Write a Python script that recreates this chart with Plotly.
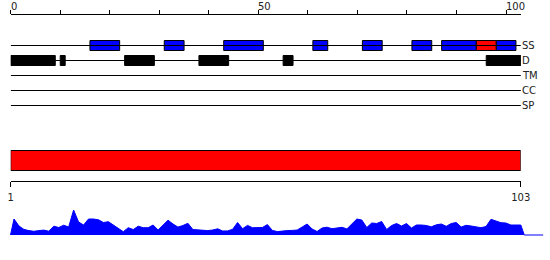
import plotly.graph_objects as go

W, H = 550, 260
FONT = "DejaVu Sans"

# ---- data ----
seq_len = 103
track_names = ["SS", "D", "TM", "CC", "SP"]
ss_blue_start = [16, 31, 43, 61, 71, 81, 87, 98]
ss_blue_end = [22, 35, 51, 64, 75, 85, 94, 102]
ss_red_start = [94]
ss_red_end = [98]
d_start = [0, 10, 23, 38, 55, 96]
d_end = [9, 11, 29, 44, 57, 103]
top_ticks = [0, 10, 20, 30, 40, 50, 60, 70, 80, 90, 100]
top_labels = [0, 50, 100]
domain_start = [1]
domain_end = [103]
ps_scores = [16, 9, 5.6, 4.4, 3.7, 4.4, 4.9, 3.8, 8.8, 7.5,
             9.8, 8, 25, 13, 10, 16, 16, 15.2, 12.5, 13.3,
             10, 7.3, 3.3, 7.3, 5.4, 8.8, 7.3, 7.3, 10, 5,
             10, 14.8, 11, 7.9, 9.5, 11.7, 5.5, 5, 5, 4.4,
             5, 6.2, 4, 4.1, 5.7, 12.5, 6.3, 9.6, 7.3, 7.2,
             7.5, 10.4, 4.6, 3.4, 4.1, 4.4, 4.6, 5, 8, 11,
             6, 3.5, 7, 7.8, 6.3, 7, 7.7, 6.1, 11, 16,
             15, 7.5, 12, 11.5, 13.5, 5.5, 9.5, 11.5, 9, 11.5,
             7, 10, 10, 9.5, 8.2, 10.2, 11, 8.7, 11.5, 12.5,
             8, 9.7, 9, 8, 7.3, 8.5, 15.7, 14, 12.3, 12,
             10, 10, 10]

# ---- layout constants (pixels) ----
x0px = 10.7
top_end_px = 520.9
top_axis_px = 14.5
top_label_px = 6
track_y = [45.5, 60.5, 75.5, 90.5, 105.5]
box_h = 10
dom_y = 160.5
dom_h = 20
ruler_y = 180.5
ps_label_px = 211
area_x0px = 14.0
area_x1px = 520.8

fig = go.Figure()

# track lines
for name, ty in zip(track_names, track_y):
    fig.add_trace(go.Scatter(x=[0, seq_len], y=[ty, ty], mode="lines",
                             line=dict(color="black", width=1),
                             xaxis="x", yaxis="y", hoverinfo="skip"))

def hbars(starts, ends, ty, color, xa="x", ya="y", h=box_h):
    return go.Bar(orientation="h", base=starts,
                  x=[e - s for s, e in zip(starts, ends)],
                  y=[ty] * len(starts), width=[h] * len(starts),
                  marker=dict(color=color, line=dict(color="black", width=1)),
                  xaxis=xa, yaxis=ya, cliponaxis=False, hoverinfo="skip")

fig.add_trace(hbars(ss_blue_start, ss_blue_end, track_y[0], "#0000FF"))
fig.add_trace(hbars(ss_red_start, ss_red_end, track_y[0], "#FF0000"))
fig.add_trace(hbars(d_start, d_end, track_y[1], "black"))

# domain bar
fig.add_trace(hbars(domain_start, domain_end, dom_y, "#FF0000", xa="x2", ya="y3", h=dom_h))

# PS area
res = list(range(1, seq_len + 1))
ax = [res[0] - 0.7] + res + [res[-1] + 0.7]
ay = [0] + ps_scores + [0]
fig.add_trace(go.Scatter(x=ax, y=ay, mode="lines", fill="tozeroy",
                         fillcolor="#0000FF", line=dict(color="#0000FF", width=1),
                         xaxis="x3", yaxis="y2", hoverinfo="skip"))
fig.add_trace(go.Scatter(x=[res[-1] + 0.7, res[-1] + 4.5], y=[0, 0], mode="lines",
                         line=dict(color="#0000FF", width=1),
                         xaxis="x3", yaxis="y2", hoverinfo="skip"))

annotations = []
for v in top_labels:
    annotations.append(dict(x=v, y=(H - top_label_px) / H, xref="x", yref="paper",
                            text=str(v), showarrow=False,
                            xanchor="left", yanchor="middle", xshift=-2,
                            font=dict(family=FONT, size=10, color="#222")))
for name, ty in zip(track_names, track_y):
    annotations.append(dict(x=seq_len, y=ty, xref="x", yref="y", text=name, showarrow=False,
                            xanchor="left", yanchor="middle", xshift=-1,
                            font=dict(family=FONT, size=10, color="#222")))
annotations.append(dict(x=seq_len + 1.45, y=(H - ps_label_px) / H, xref="x2", yref="paper",
                        text="PS", showarrow=False,
                        xanchor="center", yanchor="middle",
                        font=dict(family=FONT, size=10, color="#222")))

scale3 = (area_x1px - area_x0px) / (seq_len - 1)
x3_lo = 1 - area_x0px / scale3
x3_hi = 1 + (W - area_x0px) / scale3

fig.update_layout(
    width=W, height=H, margin=dict(l=0, r=0, t=0, b=0, autoexpand=False),
    paper_bgcolor="white", plot_bgcolor="rgba(0,0,0,0)", showlegend=False,
    barmode="overlay",
    xaxis=dict(domain=[x0px / W, top_end_px / W], range=[0, seq_len], side="top",
               anchor="y",
               tickvals=top_ticks, ticks="outside", ticklen=4, tickcolor="black", tickwidth=1,
               showticklabels=False, showline=True, linecolor="black", linewidth=1,
               showgrid=False, zeroline=False, fixedrange=True),
    yaxis=dict(domain=[0, (H - top_axis_px) / H], range=[H, top_axis_px], anchor="x",
               visible=False, fixedrange=True),
    xaxis2=dict(domain=[x0px / W, 520.7 / W], range=[1, seq_len], side="bottom",
                anchor="y3",
                tickvals=[1, seq_len], ticktext=["1", str(seq_len)],
                ticks="outside", ticklen=5, tickcolor="black", tickwidth=1,
                ticklabelstandoff=2,
                tickfont=dict(family=FONT, size=10, color="#222"),
                showline=True, linecolor="black", linewidth=1,
                showgrid=False, zeroline=False, fixedrange=True),
    yaxis3=dict(domain=[(H - ruler_y) / H, (H - top_axis_px) / H], range=[ruler_y, top_axis_px],
                anchor="x2", visible=False, fixedrange=True),
    xaxis3=dict(domain=[0, 1], range=[x3_lo, x3_hi], visible=False, anchor="y2",
                fixedrange=True),
    yaxis2=dict(domain=[(H - 236) / H, (H - 200) / H], range=[-1, 35], visible=False,
                anchor="x3", fixedrange=True),
    annotations=annotations,
)

fig.write_html("out.html")
